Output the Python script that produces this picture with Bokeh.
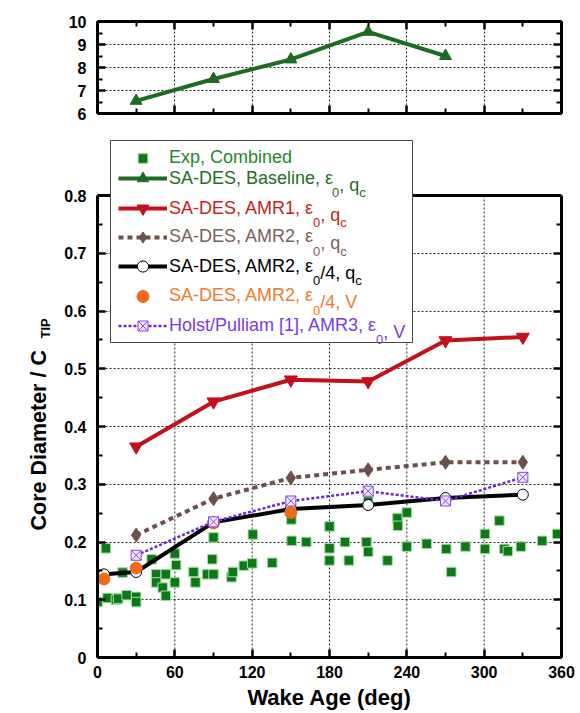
import math
from bokeh.plotting import figure
from bokeh.models import (Range1d, LinearAxis, FixedTicker, Legend, LegendItem,
                          Label, Span, BoxAnnotation, CustomJSTickFormatter)
from bokeh.core.properties import value
from bokeh.layouts import column, row
from bokeh.embed import file_html
from bokeh.resources import INLINE

FONT = "Liberation Sans"

# ---------------- data ----------------
x_major = [0, 60, 120, 180, 240, 300, 360]
x_minor = [30, 90, 150, 210, 270, 330]
y_major = [0, 0.1, 0.2, 0.3, 0.4, 0.5, 0.6, 0.7, 0.8]
y_minor = [0.05, 0.15, 0.25, 0.35, 0.45, 0.55, 0.65, 0.75]
top_y_major = [6, 7, 8, 9, 10]
top_y_minor = [6.5, 7.5, 8.5, 9.5]

top_wake = [30, 90, 150, 210, 270]
top_baseline = [6.55, 7.5, 8.35, 9.55, 8.5]

exp_wake = [0, 6.5, 7.8, 14.3, 16, 19.5, 22.6, 30, 30, 42, 45.5, 45.5, 50.6, 53, 53,
            60, 61, 60, 74.5, 76, 85, 90, 89, 90, 104, 105, 113.5, 120, 120.5, 135.6,
            150.4, 150.6, 162, 180, 180, 180, 192, 195, 208.7, 210, 210, 225, 232.7,
            233, 240, 240, 255.4, 270.6, 274.5, 285.5, 300.6, 300.6, 311.8, 315.7,
            318.4, 328.5, 345, 356.7]
exp_core = [0.096, 0.189, 0.103, 0.100, 0.102, 0.147, 0.108, 0.105, 0.096, 0.170,
            0.144, 0.130, 0.121, 0.144, 0.107, 0.180, 0.160, 0.130, 0.148, 0.130,
            0.144, 0.144, 0.170, 0.208, 0.139, 0.148, 0.159, 0.163, 0.213, 0.164,
            0.239, 0.202, 0.200, 0.227, 0.189, 0.168, 0.200, 0.168, 0.200, 0.183,
            0.270, 0.168, 0.241, 0.228, 0.251, 0.192, 0.197, 0.188, 0.148, 0.192,
            0.214, 0.188, 0.237, 0.188, 0.184, 0.192, 0.202, 0.214]

amr1_wake = [30, 90, 150, 210, 270, 330]
amr1_core = [0.365, 0.443, 0.481, 0.478, 0.549, 0.555]

amr2_wake = [30, 90, 150, 210, 270, 330]
amr2_core = [0.212, 0.275, 0.311, 0.325, 0.338, 0.338]

amr2q_wake = [5, 30, 90, 150, 210, 270, 330]
amr2q_core = [0.144, 0.148, 0.234, 0.257, 0.264, 0.276, 0.282]

amr2v_wake = [5, 30, 90, 150]
amr2v_core = [0.136, 0.155, 0.233, 0.251]

holst_wake = [30, 90, 150, 210, 270, 330]
holst_core = [0.177, 0.235, 0.271, 0.288, 0.271, 0.312]

# ---------------- colours ----------------
GREEN_EXP = "#0b7a16"
GREEN_BASE = "#1e6b22"
RED = "#c3101a"
BROWN = "#6b504b"
ORANGE = "#ee6a1c"
PURPLE = "#6c24d8"

# Arial / Liberation Sans advance widths (per 1000 em)
AW = {' ': 278, ',': 278, '-': 333, '/': 278, '[': 278, ']': 278,
      'A': 667, 'B': 667, 'C': 722, 'D': 722, 'E': 667, 'H': 722, 'M': 833,
      'P': 667, 'R': 722, 'S': 667, 'V': 667, 'a': 556, 'b': 556, 'c': 500,
      'd': 556, 'e': 556, 'i': 222, 'l': 222, 'm': 833, 'n': 556, 'o': 556,
      'p': 556, 'q': 556, 's': 500, 't': 278, 'u': 556, 'x': 500, '\u03b5': 446}
for d in "0123456789":
    AW[d] = 556


def tw(s, size):
    return sum(AW.get(c, 556) for c in s) * size / 1000.0


def style_axis(ax, labels=True):
    ax.axis_line_width = 3
    ax.axis_line_color = "black"
    ax.major_tick_in = 8
    ax.major_tick_out = 0
    ax.minor_tick_in = 5
    ax.minor_tick_out = 0
    ax.major_tick_line_width = 2.5
    ax.minor_tick_line_width = 2
    ax.major_tick_line_color = "black"
    ax.minor_tick_line_color = "black"
    ax.major_label_text_font = FONT
    ax.major_label_text_font_style = "bold"
    ax.major_label_text_font_size = "16px"
    ax.major_label_text_color = "black"
    ax.major_label_standoff = 11
    if not labels:
        ax.formatter = CustomJSTickFormatter(code="return ''")
        ax.major_label_standoff = 0


GRID_KW = dict(line_color="black", line_dash="2 2", line_width=1, line_alpha=0.85)


def style_grid(g):
    g.grid_line_color = GRID_KW["line_color"]
    g.grid_line_dash = GRID_KW["line_dash"]
    g.grid_line_width = GRID_KW["line_width"]
    g.grid_line_alpha = GRID_KW["line_alpha"]


xt = FixedTicker(ticks=x_major, minor_ticks=x_minor)

# ---------------- layout geometry (pixels) ----------------
W_TOTAL = 576
LEFT = 97
FRAME_W = 464
RIGHT = W_TOTAL - LEFT - FRAME_W
TOP_H = 128
MAIN_TOP = 138          # top of the (extended) main frame, page px
FRAME_TOP = 195         # page y of value 0.8
FRAME_BOTTOM = 657      # page y of value 0
PAGE_H = 713
YLAB_W = 60

# ---------------- top panel ----------------
top = figure(frame_width=FRAME_W, frame_height=92,
             x_range=Range1d(0, 360), y_range=Range1d(6, 10),
             min_border_left=LEFT, min_border_right=RIGHT, min_border_top=21,
             min_border_bottom=TOP_H - 21 - 92, output_backend="svg",
             toolbar_location=None, outline_line_color=None,
             background_fill_color="white", border_fill_color="white")
tyt = FixedTicker(ticks=top_y_major, minor_ticks=top_y_minor)
top.xaxis.ticker = xt
top.yaxis.ticker = tyt
style_axis(top.yaxis[0])
top.yaxis[0].major_label_text_baseline = "alphabetic"
style_axis(top.xaxis[0], labels=False)
ra = LinearAxis(ticker=tyt)
style_axis(ra, labels=False)
top.add_layout(ra, "right")
aa = LinearAxis(ticker=xt)
style_axis(aa, labels=False)
top.add_layout(aa, "above")
style_grid(top.xgrid[0])
style_grid(top.ygrid[0])
top.line(top_wake, top_baseline, line_color=GREEN_BASE, line_width=4)
top.scatter(top_wake, top_baseline, marker="triangle", size=12, color=GREEN_BASE)

# ---------------- main panel ----------------
Y0, Y1 = y_major[0], y_major[-1]
frame_h = FRAME_BOTTOM - MAIN_TOP
px_y = Y1 / (FRAME_BOTTOM - FRAME_TOP)      # data units per pixel (y)
px_x = 360.0 / FRAME_W                      # data units per pixel (x)
y_top = frame_h * px_y
main = figure(frame_width=FRAME_W, frame_height=frame_h,
              x_range=Range1d(0, 360), y_range=Range1d(Y0, y_top),
              min_border_left=LEFT - YLAB_W, min_border_right=RIGHT,
              min_border_top=MAIN_TOP - TOP_H,
              min_border_bottom=PAGE_H - FRAME_BOTTOM, output_backend="svg",
              toolbar_location=None, outline_line_color=None,
              background_fill_color="white", border_fill_color="white")
yt = FixedTicker(ticks=y_major, minor_ticks=y_minor)
main.xaxis.ticker = xt
main.yaxis.ticker = yt
style_axis(main.xaxis[0])
style_axis(main.yaxis[0])
main.yaxis[0].bounds = (Y0, Y1)
main.yaxis[0].major_label_overrides = {0: "0"}
main.xaxis[0].major_label_standoff = 8
main.xaxis[0].axis_label = "Wake Age (deg)"
main.xaxis[0].axis_label_text_font = FONT
main.xaxis[0].axis_label_text_font_style = "bold"
main.xaxis[0].axis_label_text_font_size = "22px"
main.xaxis[0].axis_label_text_color = "black"
main.xaxis[0].axis_label_standoff = 4
ra2 = LinearAxis(ticker=yt, bounds=(Y0, Y1))
style_axis(ra2, labels=False)
main.add_layout(ra2, "right")
main.xgrid.visible = False
style_grid(main.ygrid[0])
# vertical grid lines limited to the data box
gx = x_major[1:-1]
main.segment(x0=gx, y0=[Y0] * len(gx), x1=gx, y1=[Y1] * len(gx), **GRID_KW)
# top spine of the data box
main.add_layout(Span(location=Y1, dimension="width", line_color="black", line_width=3))

exp_r = main.scatter(exp_wake, exp_core, marker="square", size=9.5,
                     fill_color=GREEN_EXP, line_color="#a6d9a6", line_width=1)
# baseline series lives on the upper panel's scale: off-scale here, used for the legend
base_l = main.line(top_wake, top_baseline, line_color=GREEN_BASE, line_width=4)
base_m = main.scatter(top_wake, top_baseline, marker="triangle", size=11, color=GREEN_BASE)
amr2_l = main.line(amr2_wake, amr2_core, line_color=BROWN, line_width=4, line_dash="5 4")
amr2_m = main.scatter(amr2_wake, amr2_core, marker="diamond", size=14, color=BROWN)
amr1_l = main.line(amr1_wake, amr1_core, line_color=RED, line_width=4)
amr1_m = main.scatter(amr1_wake, amr1_core, marker="inverted_triangle", size=13, color=RED)
amr2q_l = main.line(amr2q_wake, amr2q_core, line_color="black", line_width=4)
amr2q_m = main.scatter(amr2q_wake, amr2q_core, marker="circle", size=11,
                       fill_color="white", line_color="black", line_width=1)
amr2v_m = main.scatter(amr2v_wake, amr2v_core, marker="circle", size=12,
                       fill_color=ORANGE, line_color=ORANGE)
holst_l = main.line(holst_wake, holst_core, line_color=PURPLE, line_width=2.5, line_dash="3 2")
holst_m = main.scatter(holst_wake, holst_core, marker="square_x", size=10,
                       fill_color="#f1e9fc", line_color="#8446e6", line_width=1)

# ---------------- legend ----------------
BOX_L, BOX_R, BOX_T, BOX_B = 110, 412, 140, 342   # page px
main.add_layout(BoxAnnotation(left=(BOX_L - LEFT) * px_x, right=(BOX_R - LEFT) * px_x,
                              top=(FRAME_BOTTOM - BOX_T) * px_y,
                              bottom=(FRAME_BOTTOM - BOX_B) * px_y,
                              fill_color="white", fill_alpha=1,
                              line_color="#444444", line_width=1, line_alpha=1,
                              level="annotation"))

rows = [
    ([("Exp, Combined", 0)], "#22882b", [exp_r], 24, 157.5),
    ([("SA-DES, Baseline, \u03b5", 0), ("0", 1), (", q", 0), ("c", 1)], "#1f6e26",
     [base_l, base_m], 28, 178.0),
    ([("SA-DES, AMR1, \u03b5", 0), ("0", 1), (", q", 0), ("c", 1)], "#cc1c1c",
     [amr1_l, amr1_m], 30, 208.0),
    ([("SA-DES, AMR2, \u03b5", 0), ("0", 1), (", q", 0), ("c", 1)], "#7a5e59",
     [amr2_l, amr2_m], 28, 236.5),
    ([("SA-DES, AMR2, \u03b5", 0), ("0", 1), ("/4, q", 0), ("c", 1)], "black",
     [amr2q_l, amr2q_m], 28, 266.0),
    ([("SA-DES, AMR2, \u03b5", 0), ("0", 1), ("/4, V", 0)], "#f07a30",
     [amr2v_m], 30, 295.5),
    ([("Holst/Pulliam [1], AMR3, \u03b5", 0), ("0", 1), (", V", 0)], "#7b3be0",
     [holst_l, holst_m], 25, 325.0),
]

GLYPH_LEFT = 118
GLYPH_W = 49
STANDOFF = 2
TEXT_LEFT = GLYPH_LEFT + GLYPH_W + STANDOFF
for segs, col, rends, gh, cy in rows:
    leg = Legend(items=[LegendItem(label=segs[0][0], renderers=rends)],
                 location=(GLYPH_LEFT - LEFT, FRAME_BOTTOM - (cy + gh / 2.0)),
                 padding=0, margin=0, spacing=0, glyph_width=GLYPH_W, glyph_height=gh,
                 label_height=gh, label_standoff=STANDOFF,
                 label_text_font=FONT, label_text_font_size="18px",
                 label_text_color=col, border_line_color=None,
                 background_fill_alpha=0)
    main.add_layout(leg)
    base = cy + 0.3465 * 18
    xpos = TEXT_LEFT + tw(segs[0][0], 18) - 1.5
    for txt, sub in segs[1:]:
        size = 13 if sub else 18
        yb = base + 8 if sub else base
        main.add_layout(Label(x=xpos - LEFT, y=FRAME_BOTTOM - yb,
                              x_units="screen", y_units="screen", text=txt,
                              text_font=FONT, text_font_size="%dpx" % size,
                              text_color=col, text_baseline="alphabetic",
                              text_align="left", level="overlay"))
        xpos += tw(txt, size)

# ---------------- y axis title (own narrow panel, frame aligned with main) ----------------
ylab = figure(frame_width=YLAB_W, frame_height=frame_h,
              x_range=Range1d(0, YLAB_W), y_range=Range1d(-FRAME_BOTTOM, -MAIN_TOP),
              min_border_left=0, min_border_right=0,
              min_border_top=MAIN_TOP - TOP_H, min_border_bottom=PAGE_H - FRAME_BOTTOM,
              x_axis_location=None, y_axis_location=None, output_backend="svg",
              toolbar_location=None, outline_line_color=None,
              background_fill_color="white", border_fill_color="white")
ylab.grid.visible = False
ylab.text(x=[38], y=[-530], text=["Core Diameter / C"], angle=math.pi / 2,
          text_font=value(FONT), text_font_style="bold", text_font_size="21.5px",
          text_color="black", text_baseline="alphabetic", text_align="left")
ylab.text(x=[45], y=[-338], text=["TIP"], angle=math.pi / 2,
          text_font=value(FONT), text_font_style="bold", text_font_size="13px",
          text_color="black", text_baseline="alphabetic", text_align="left")

layout = column(top, row(ylab, main, spacing=0), spacing=0)
open("out.html", "w").write(file_html(layout, INLINE))
